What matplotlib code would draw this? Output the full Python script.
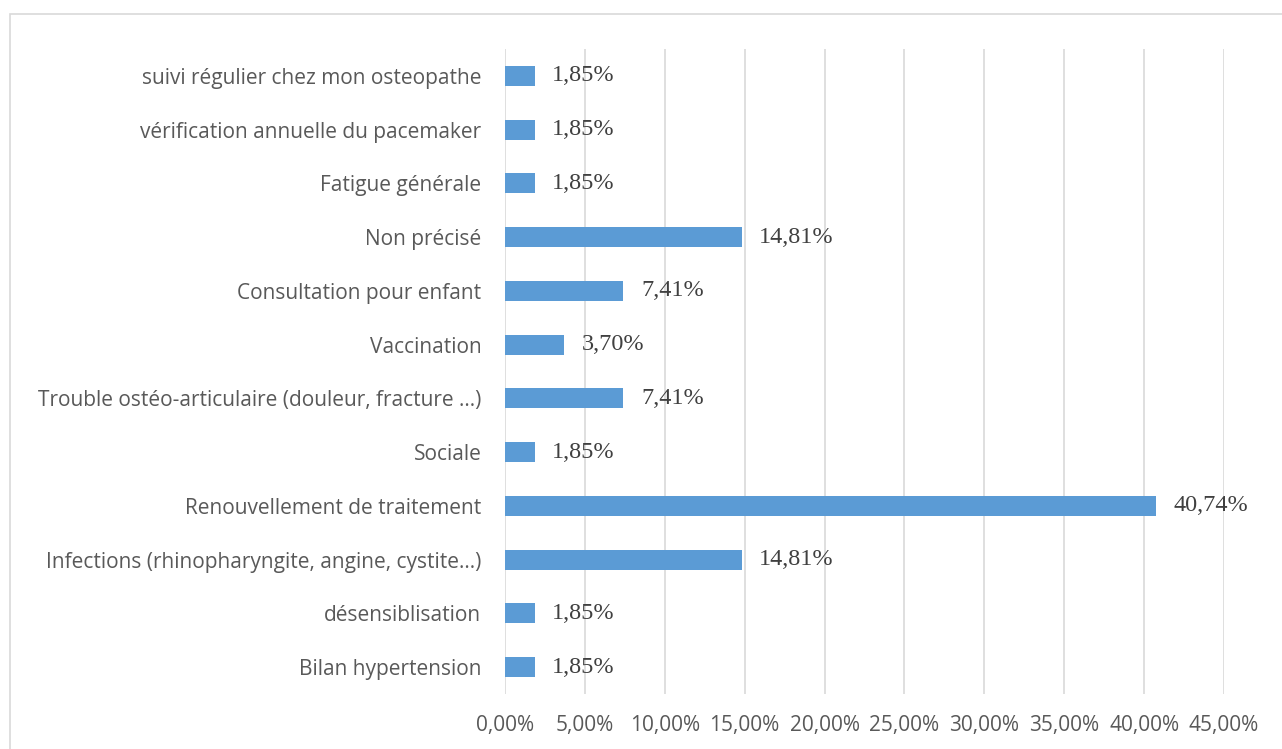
import matplotlib.pyplot as plt
from matplotlib.patches import Rectangle

# data, bottom to top
categories = [
    "Bilan hypertension",
    "désensiblisation",
    "Infections (rhinopharyngite, angine, cystite...)",
    "Renouvellement de traitement",
    "Sociale",
    "Trouble ostéo-articulaire (douleur, fracture ...)",
    "Vaccination",
    "Consultation pour enfant",
    "Non précisé",
    "Fatigue générale",
    "vérification annuelle du pacemaker",
    "suivi régulier chez mon osteopathe",
]
values = [1.85, 1.85, 14.81, 40.74, 1.85, 7.41, 3.70, 7.41, 14.81, 1.85, 1.85, 1.85]
xticks = [0, 5, 10, 15, 20, 25, 30, 35, 40, 45]

fig = plt.figure(figsize=(12.82, 7.49), dpi=100)
ax = fig.add_axes([505 / 1282, 55 / 749, (1224 - 505) / 1282, (700 - 55) / 749])

# outer chart frame
fig.patches.append(Rectangle((10 / 1282, -0.05), 1.2, (749 - 14) / 749 + 0.05,
                             transform=fig.transFigure, fill=False,
                             edgecolor="#d9d9d9", linewidth=1.2))

pos = list(range(len(categories)))
ax.barh(pos, values, height=0.37, color="#5b9bd5", zorder=3)

for y, v in zip(pos, values):
    ax.text(v + 1.1, y, f"{v:.2f}%".replace(".", ","), va="center", ha="left",
            fontsize=17.5, family="Liberation Serif", color="#404040", zorder=4)

ax.set_xlim(0, 45)
ax.set_ylim(-0.5, len(categories) - 0.5)
ax.set_xticks(xticks)
ax.set_xticklabels([f"{t:.2f}%".replace(".", ",") for t in xticks])
ax.set_yticks(pos)
ax.set_yticklabels(categories)
ax.tick_params(axis="both", length=0, colors="#595959", labelsize=15)
ax.tick_params(axis="y", pad=17)
ax.tick_params(axis="x", pad=15)
for lab in ax.get_xticklabels() + ax.get_yticklabels():
    lab.set_family("Open Sans")

ax.grid(axis="x", color="#d9d9d9", linewidth=1.2, zorder=0)
for s in ax.spines.values():
    s.set_visible(False)

fig.savefig("out.png", dpi=100)
